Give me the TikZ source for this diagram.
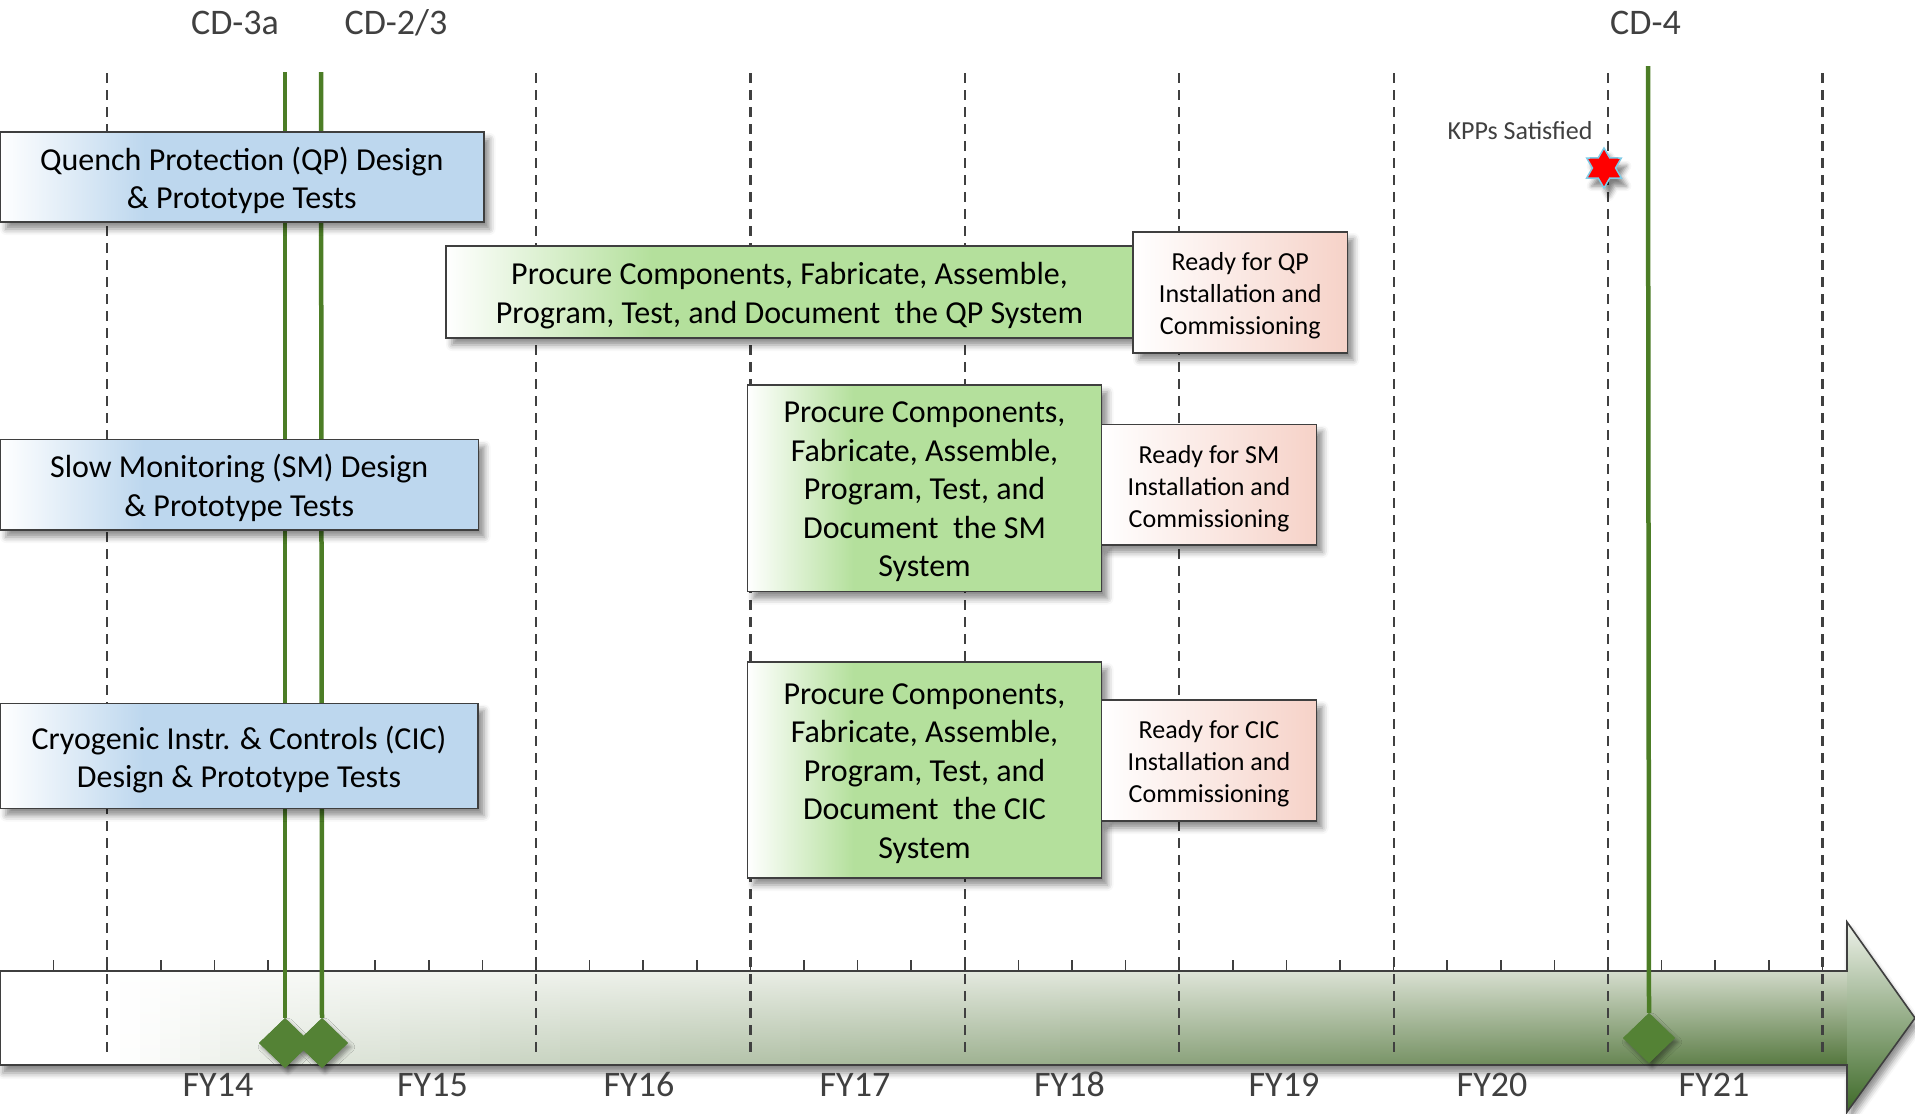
\documentclass[tikz,border=0pt]{standalone}
\usepackage{fontspec}
\setmainfont{Carlito}
\usetikzlibrary{shapes.geometric,shadows.blur}
\definecolor{boxblue}{HTML}{BDD7EE}
\definecolor{boxgreen}{HTML}{B4E09C}
\definecolor{boxpink}{HTML}{F6D2C8}
\definecolor{cdgreen}{HTML}{4C7D26}
\definecolor{diagreen}{HTML}{548235}
\definecolor{linegray}{HTML}{3F3F3F}
\definecolor{labelgray}{HTML}{404040}
\definecolor{barTop}{HTML}{CFD8C6}
\definecolor{barBot}{HTML}{52753B}
\definecolor{headTop}{HTML}{EEF2EA}
\definecolor{headBot}{HTML}{3E6A28}
\definecolor{starblue}{HTML}{7FCBE6}
\pgfdeclarehorizontalshading{bluegrad}{100bp}{color(0bp)=(white); color(25bp)=(white); color(40bp)=(boxblue); color(100bp)=(boxblue)}
\pgfdeclarehorizontalshading{greengrad}{100bp}{color(0bp)=(white); color(25bp)=(white); color(40bp)=(boxgreen); color(100bp)=(boxgreen)}
\pgfdeclarehorizontalshading{pinkgrad}{100bp}{color(0bp)=(white); color(25bp)=(white); color(75bp)=(boxpink); color(100bp)=(boxpink)}
\tikzset{
  boxshadow/.style={blur shadow={shadow xshift=6pt, shadow yshift=-7pt, shadow blur radius=6pt, shadow opacity=45}},
  basebox/.style={draw=linegray, line width=1.8, inner sep=0, boxshadow},
  design/.style={basebox, shading=bluegrad},
  procure/.style={basebox, shading=greengrad},
  ready/.style={basebox, shading=pinkgrad},
  bigtext/.style={align=center, inner sep=0, font=\fontsize{32}{38.5}\selectfont},
  smalltext/.style={align=center, inner sep=0, font=\fontsize{26}{32}\selectfont},
  yeardash/.style={draw=labelgray, line width=2.2, dash pattern=on 10pt off 7pt},
  tickmark/.style={draw=linegray, line width=1.5},
  cdline/.style={draw=cdgreen, line width=4.5},
  milestone/.style={diamond, fill=diagreen, minimum width=52, minimum height=50, inner sep=0},
  milestoneshadow/.style={milestone, blur shadow={shadow xshift=3pt, shadow yshift=-4pt, shadow blur radius=4pt, shadow opacity=40}},
  toplabel/.style={text=labelgray, font=\fontsize{36}{40}\selectfont, anchor=base, inner sep=0},
  fylabel/.style={text=labelgray, font=\fontsize{36}{40}\selectfont, anchor=base, inner sep=0},
}
\begin{document}
\begin{tikzpicture}[x=1pt, y=-1pt]
\useasboundingbox (0,0) rectangle (1915,1114);
% timeline arrow
\fill[white, blur shadow={shadow xshift=3pt, shadow yshift=-8pt, shadow blur radius=6pt, shadow opacity=45}]
  (0,971) -- (1847,971) -- (1847,922) -- (1915,1018) -- (1847,1112) -- (1847,1065) -- (0,1065) -- cycle;
\foreach \i in {0,...,92} {
  \pgfmathsetmacro{\xa}{\i*20}
  \pgfmathsetmacro{\xb}{min(\i*20+21,1847)}
  \pgfmathsetmacro{\xm}{\i*20+10}
  \pgfmathtruncatemacro{\w}{100*pow(max(0.0001,min(1,(\xm-120)/1727)),0.8)}
  \shade[top color=barTop!\w!white, bottom color=barBot!\w!white] (\xa,971) rectangle (\xb,1065);
}
\shade[top color=headTop, bottom color=headBot] (1847,922) -- (1915,1018) -- (1847,1112) -- cycle;
\draw[linegray, line width=1.6, line join=miter]
  (0,971) -- (1847,971) -- (1847,922) -- (1915,1018) -- (1847,1112) -- (1847,1065) -- (0,1065) -- cycle;
% quarter ticks
\foreach \k in {1,...,34} \draw[tickmark] (\k*53.6,960) -- (\k*53.6,971);
% year dividers
\foreach \k in {2,10,14,18,22,26,30,34} \draw[yeardash] (\k*53.6,73) -- (\k*53.6,1053);
% milestones
\node[milestoneshadow] (d1s) at (285,1043) {};
\node[milestoneshadow] (d2s) at (322,1043) {};
\node[milestoneshadow] (d4s) at (1649,1038) {};
\coordinate (t1) at (285,72);
\coordinate (t2) at (321,72);
\coordinate (t4) at (1648,66);
\draw[cdline] (t1) -- (d1s.north);
\draw[cdline] (t2) -- (d2s.north);
\draw[cdline] (t4) -- (d4s.north);
\node[milestone] (d1) at (285,1043) {};
\node[milestone] (d2) at (322,1043) {};
\node[milestone] (d4) at (1649,1038) {};
% design boxes
\node[design, minimum width=483.6, minimum height=90] (qpd) at (241.8,177) {};
\node[bigtext] (qpdtext) at ([yshift=-3.5pt]qpd.center) {Quench Protection (QP) Design\\\& Prototype Tests};
\node[design, minimum width=478.5, minimum height=90.5] (smd) at (239.25,484.75) {};
\node[bigtext] (smdtext) at ([yshift=-3pt]smd.center) {Slow Monitoring (SM) Design\\\& Prototype Tests};
\node[design, minimum width=478, minimum height=105] (cicd) at (239,756) {};
\node[bigtext] (cicdtext) at ([yshift=-3.5pt]cicd.center) {Cryogenic Instr. \& Controls (CIC)\\Design \& Prototype Tests};
% procure boxes
\node[procure, minimum width=687, minimum height=92] (qpp) at (789.5,292) {};
\node[bigtext] (qpptext) at ([yshift=-3.5pt]qpp.center) {Procure Components, Fabricate, Assemble,\\Program, Test, and Document~ the QP System};
\node[procure, minimum width=354, minimum height=206.5] (smp) at (924.5,488.25) {};
\node[bigtext] (smptext) at ([yshift=-3.5pt]smp.center) {Procure Components,\\Fabricate, Assemble,\\Program, Test, and\\Document~ the SM\\System};
\node[procure, minimum width=354, minimum height=216] (cicp) at (924.5,770) {};
\node[bigtext] (cicptext) at ([yshift=-3.5pt]cicp.center) {Procure Components,\\Fabricate, Assemble,\\Program, Test, and\\Document~ the CIC\\System};
% ready boxes
\node[ready, minimum width=214.5, minimum height=121] (qpr) at (1240.25,292.5) {};
\node[smalltext] (qprtext) at ([yshift=-3.5pt]qpr.center) {Ready for QP\\Installation and\\Commissioning};
\node[ready, minimum width=215, minimum height=120.5] (smr) at (1209,484.75) {};
\node[smalltext] (smrtext) at ([yshift=-3.5pt]smr.center) {Ready for SM\\Installation and\\Commissioning};
\node[ready, minimum width=215, minimum height=121] (cicr) at (1209,760.5) {};
\node[smalltext] (cicrtext) at ([yshift=-3.5pt]cicr.center) {Ready for CIC\\Installation and\\Commissioning};
% KPP star
\node[star, star points=6, star point ratio=1.73, minimum size=40, inner sep=0, fill=red, draw=starblue, line width=1.5,
  blur shadow={shadow xshift=5pt, shadow yshift=-8pt, shadow blur radius=5pt, shadow opacity=50}] (kpp) at (1604,168) {};
\node[text=labelgray, font=\fontsize{26}{30}\selectfont, anchor=base, inner sep=0] (kpplabel) at (1520,139.5) {KPPs Satisfied};
% milestone labels
\node[toplabel] (lcd3a) at (235,34) {CD-3a};
\node[toplabel] (lcd23) at (396,34) {CD-2/3};
\node[toplabel] (lcd4) at (1645.5,34) {CD-4};
% fiscal years
\node[fylabel] (fy14) at (218,1096) {FY14};
\node[fylabel] (fy15) at (432.5,1096) {FY15};
\node[fylabel] (fy16) at (639,1096) {FY16};
\node[fylabel] (fy17) at (855,1096) {FY17};
\node[fylabel] (fy18) at (1069.5,1096) {FY18};
\node[fylabel] (fy19) at (1284,1096) {FY19};
\node[fylabel] (fy20) at (1492,1096) {FY20};
\node[fylabel] (fy21) at (1714,1096) {FY21};
\end{tikzpicture}
\end{document}
